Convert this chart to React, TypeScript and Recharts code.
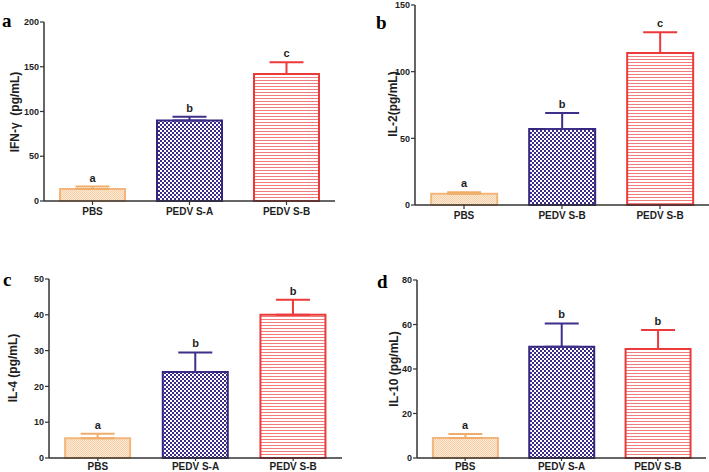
import React from 'react';
import { BarChart, Bar, XAxis, YAxis, Cell, ErrorBar, ReferenceDot } from 'recharts';

// groups, means, upper SEM, significance letters, y ticks per panel
const groupsAC = ['PBS', 'PEDV S-A', 'PEDV S-B'];
const groupsB = ['PBS', 'PEDV S-B', 'PEDV S-B'];

const ifnMean = [13.5, 90, 142];
const ifnErr = [2.7, 4, 13];
const ifnSig = ['a', 'b', 'c'];
const ifnTicks = [0, 50, 100, 150, 200];

const il2Mean = [8.5, 57, 114];
const il2Err = [1, 12, 15.5];
const il2Sig = ['a', 'b', 'c'];
const il2Ticks = [0, 50, 100, 150];

const il4Mean = [5.5, 24, 40];
const il4Err = [1.3, 5.5, 4.2];
const il4Sig = ['a', 'b', 'b'];
const il4Ticks = [0, 10, 20, 30, 40, 50];

const il10Mean = [9, 50, 49];
const il10Err = [1.8, 10.5, 8.5];
const il10Sig = ['a', 'b', 'b'];
const il10Ticks = [0, 20, 40, 60, 80];

const FONT = 'Arial, "Liberation Sans", sans-serif';
const INK = '#1e1e1e';

const styles = [
  { stroke: '#f2b67c', fill: 'url(#pOrange)', err: '#efad6b' },
  { stroke: '#34277f', fill: 'url(#pBlue)', err: '#3d2f8a' },
  { stroke: '#ec3a3a', fill: 'url(#pRed)', err: '#ec3a3a' },
];

type PanelProps = {
  names: string[];
  mean: number[];
  err: number[];
  sig: string[];
  ticks: number[];
  left: number;
  top: number;
  width: number;
  height: number;
  margin: { top: number; right: number; left: number; bottom: number };
  yWidth: number;
  xHeight: number;
  xTick: number;
  xGap: number;
};

const Panel = ({ names, mean, err, sig, ticks, left, top, width, height, margin, yWidth, xHeight, xTick, xGap }: PanelProps) => {
  const data = names.map((n, i) => ({
    key: `g${i}`,
    name: n,
    mean: mean[i],
    e0: i === 0 ? [0, err[i]] : undefined,
    e1: i === 1 ? [0, err[i]] : undefined,
    e2: i === 2 ? [0, err[i]] : undefined,
  }));
  const nameOf = (k: string) => data.find((d) => d.key === k)?.name ?? k;

  return (
    <div style={{ position: 'absolute', left, top, width, height }}>
      <BarChart width={width} height={height} data={data} margin={margin} barCategoryGap="16.5%">
        <XAxis
          dataKey="key"
          tickFormatter={nameOf}
          height={xHeight}
          tickSize={xTick}
          tickMargin={xGap}
          axisLine={{ stroke: '#333', strokeWidth: 1.5 }}
          tickLine={{ stroke: '#333', strokeWidth: 1.2 }}
          tick={{ fill: INK, fontSize: 10, fontWeight: 'bold', fontFamily: FONT }}
        />
        <YAxis
          type="number"
          domain={[0, ticks[ticks.length - 1]]}
          ticks={ticks}
          interval={0}
          width={yWidth}
          tickSize={4}
          tickMargin={1}
          axisLine={{ stroke: '#333', strokeWidth: 1.5 }}
          tickLine={{ stroke: '#333', strokeWidth: 1.2 }}
          tick={{ fill: INK, fontSize: 9, fontWeight: 'bold', fontFamily: FONT }}
        />
        <Bar dataKey="mean" strokeWidth={2} isAnimationActive={false}>
          {data.map((d, i) => (
            <Cell key={d.key} fill={styles[i].fill} stroke={styles[i].stroke} />
          ))}
          <ErrorBar dataKey="e0" width={17} stroke={styles[0].err} strokeWidth={2} />
          <ErrorBar dataKey="e1" width={17} stroke={styles[1].err} strokeWidth={2} />
          <ErrorBar dataKey="e2" width={17} stroke={styles[2].err} strokeWidth={2} />
        </Bar>
        {data.map((d, i) => (
          <ReferenceDot
            key={`s${i}`}
            x={d.key}
            y={mean[i] + err[i]}
            r={0}
            fill="none"
            stroke="none"
            ifOverflow="visible"
            label={{
              value: sig[i],
              position: 'top',
              offset: 5,
              fill: INK,
              fontSize: 11,
              fontWeight: 'bold',
              fontFamily: FONT,
            }}
          />
        ))}
      </BarChart>
    </div>
  );
};

export default function App() {
  const letter = { fontFamily: '"Liberation Serif", "Times New Roman", serif', fontWeight: 'bold', fontSize: 19, fill: '#000' } as const;
  const ylab = { fontFamily: FONT, fontWeight: 'bold', fontSize: 12, fill: INK, whiteSpace: 'pre' } as const;
  return (
    <div style={{ position: 'absolute', left: 0, top: 0, width: 709, height: 472, background: '#fff', overflow: 'hidden' }}>
      <svg width={0} height={0} style={{ position: 'absolute' }}>
        <defs>
          <pattern id="pOrange" width={2} height={2} patternUnits="userSpaceOnUse">
            <rect width={2} height={2} fill="#fde9d6" />
            <rect width={1} height={1} fill="#f7cfa5" />
            <rect x={1} y={1} width={1} height={1} fill="#f7cfa5" />
          </pattern>
          <pattern id="pBlue" width={4} height={4} patternUnits="userSpaceOnUse">
            <rect width={4} height={4} fill="#ffffff" />
            <rect width={2} height={2} fill="#3a2c88" />
            <rect x={2} y={2} width={2} height={2} fill="#3a2c88" />
          </pattern>
          <pattern id="pRed" width={3} height={3} patternUnits="userSpaceOnUse">
            <rect width={3} height={3} fill="#ffffff" />
            <rect y={2} width={3} height={1} fill="#f27c7c" />
          </pattern>
        </defs>
      </svg>

      <Panel names={groupsAC} mean={ifnMean} err={ifnErr} sig={ifnSig} ticks={ifnTicks}
        left={0} top={0} width={354} height={236}
        margin={{ top: 22, right: 19, left: 0, bottom: 0 }} yWidth={44} xHeight={35} xTick={4} xGap={3} />
      <Panel names={groupsB} mean={il2Mean} err={il2Err} sig={il2Sig} ticks={il2Ticks}
        left={354} top={0} width={355} height={236}
        margin={{ top: 5, right: 0, left: 0, bottom: 0 }} yWidth={61} xHeight={31} xTick={4} xGap={3} />
      <Panel names={groupsAC} mean={il4Mean} err={il4Err} sig={il4Sig} ticks={il4Ticks}
        left={0} top={236} width={354} height={236}
        margin={{ top: 43, right: 12, left: 0, bottom: 0 }} yWidth={49} xHeight={14} xTick={3} xGap={2} />
      <Panel names={groupsAC} mean={il10Mean} err={il10Err} sig={il10Sig} ticks={il10Ticks}
        left={354} top={236} width={355} height={236}
        margin={{ top: 44, right: 3, left: 0, bottom: 0 }} yWidth={63} xHeight={14} xTick={3} xGap={2} />

      <svg width={709} height={472} style={{ position: 'absolute', left: 0, top: 0, pointerEvents: 'none' }}>
        <text x={2} y={27} style={letter}>a</text>
        <text x={376} y={29} style={letter}>b</text>
        <text x={3} y={286} style={letter}>c</text>
        <text x={377} y={288} style={letter}>d</text>
        <text transform="rotate(-90 15 112)" x={15} y={112} textAnchor="middle" dominantBaseline="central" style={ylab}>{'IFN-γ  (pg/mL)'}</text>
        <text transform="rotate(-90 393 104)" x={393} y={104} textAnchor="middle" dominantBaseline="central" style={ylab}>IL-2(pg/mL)</text>
        <text transform="rotate(-90 13 368)" x={13} y={368} textAnchor="middle" dominantBaseline="central" style={ylab}>IL-4 (pg/mL)</text>
        <text transform="rotate(-90 394 369)" x={394} y={369} textAnchor="middle" dominantBaseline="central" style={ylab}>IL-10 (pg/mL)</text>
      </svg>
    </div>
  );
}
